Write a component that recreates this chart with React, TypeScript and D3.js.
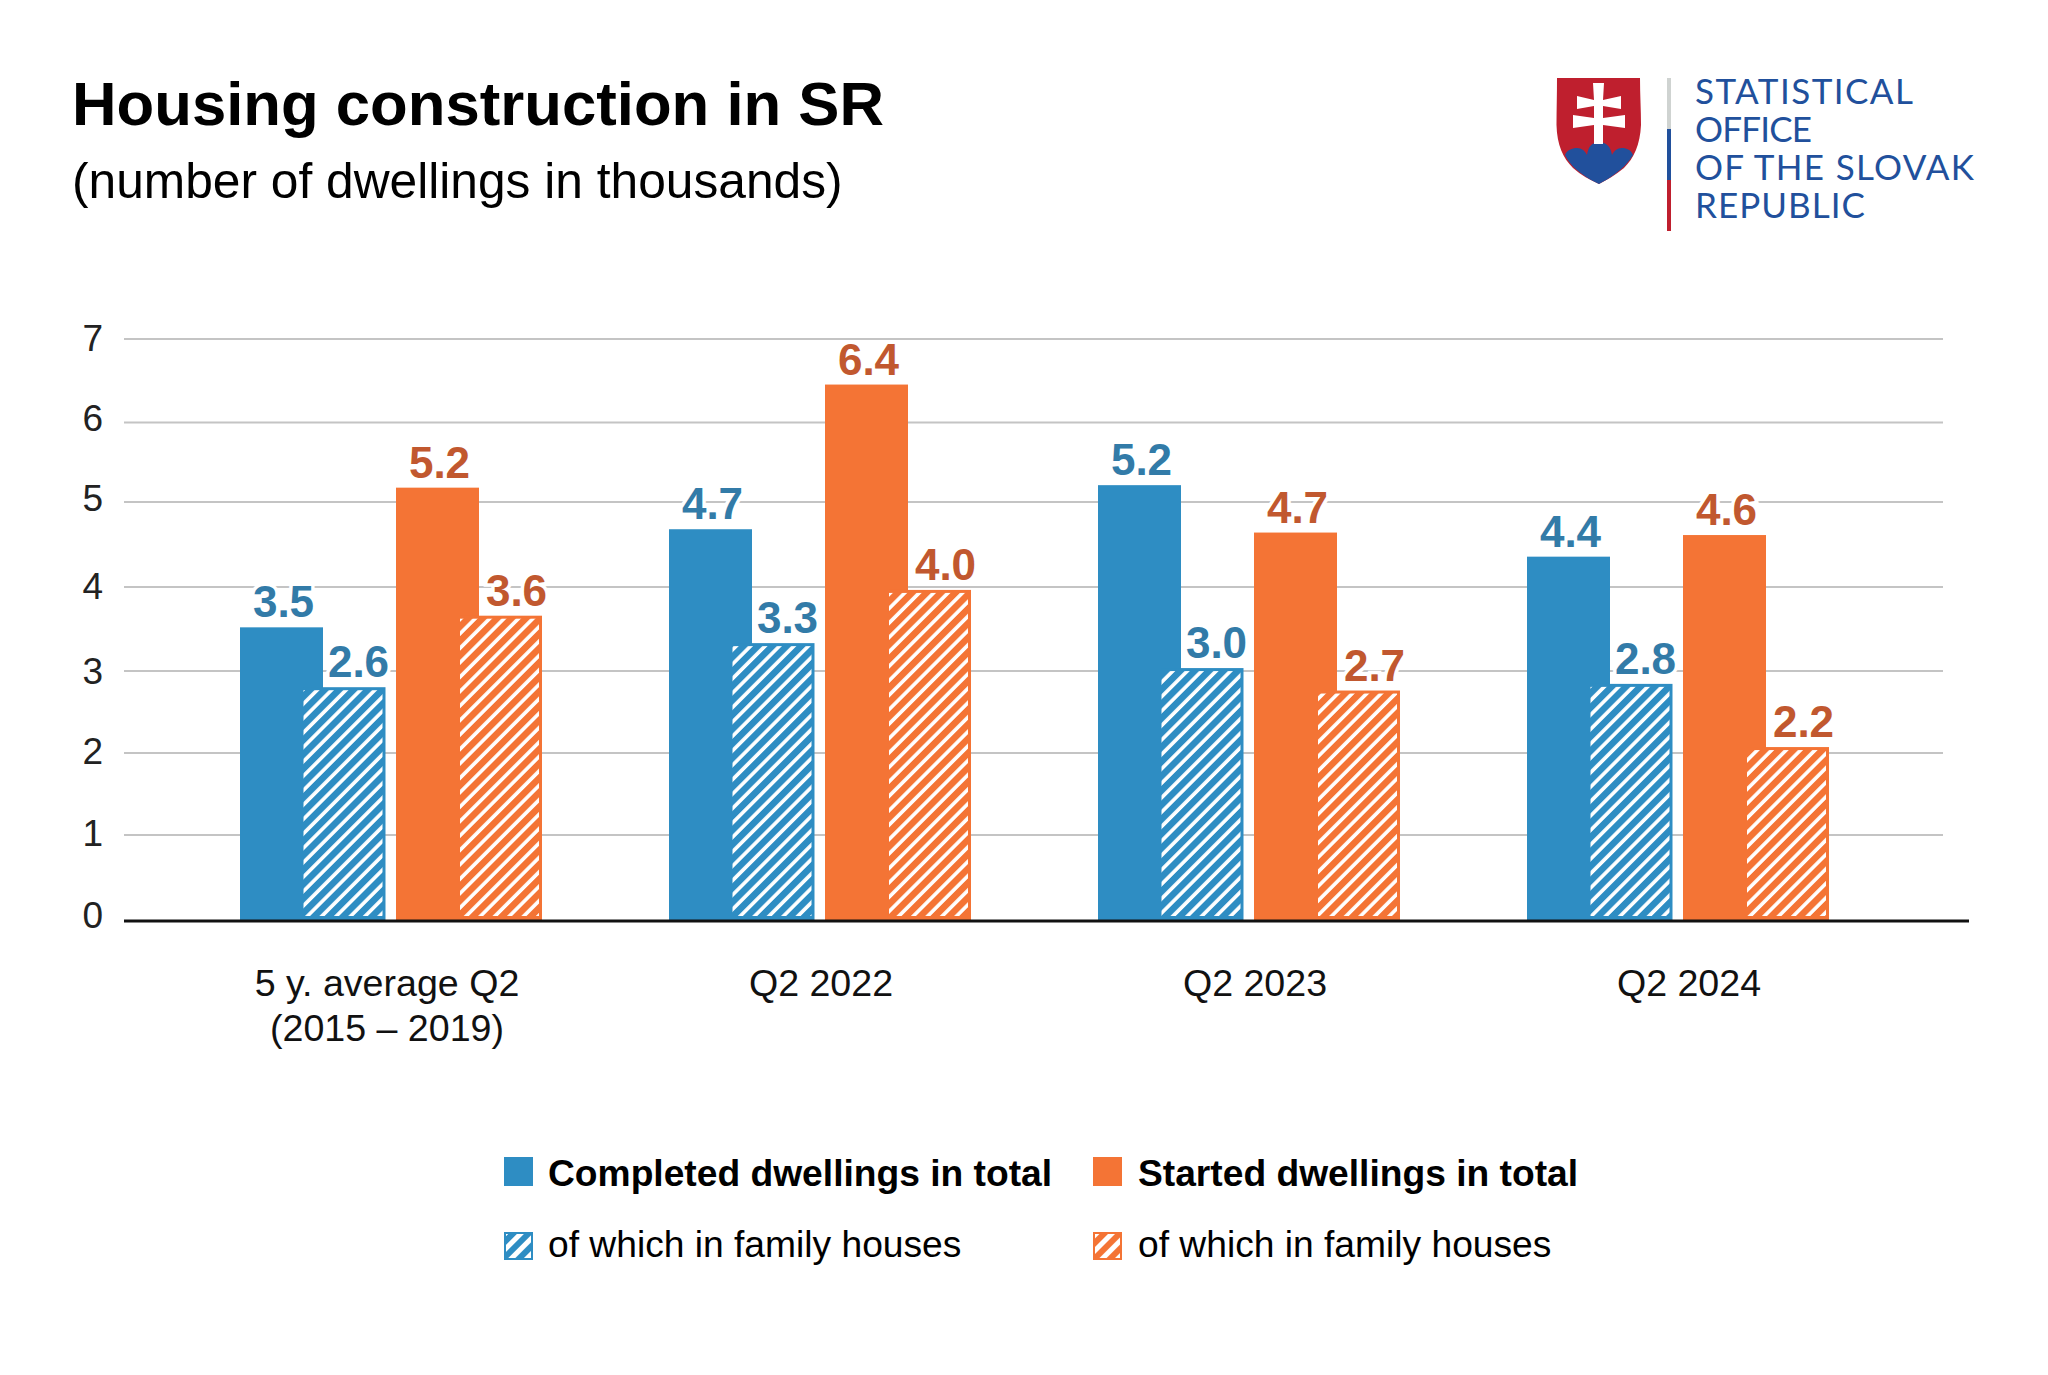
import React from "react";
import * as d3 from "d3";

const categories = ["5 y. average Q2", "Q2 2022", "Q2 2023", "Q2 2024"];
const categorySub = ["(2015 – 2019)", "", "", ""];
const yTicks = [0, 1, 2, 3, 4, 5, 6, 7];
const completedTotal = [3.52, 4.7, 5.23, 4.37];
const completedHouses = [2.8, 3.33, 3.03, 2.84];
const startedTotal = [5.2, 6.44, 4.66, 4.63];
const startedHouses = [3.66, 3.97, 2.76, 2.08];
const completedTotalLabels = ["3.5", "4.7", "5.2", "4.4"];
const completedHousesLabels = ["2.6", "3.3", "3.0", "2.8"];
const startedTotalLabels = ["5.2", "6.4", "4.7", "4.6"];
const startedHousesLabels = ["3.6", "4.0", "2.7", "2.2"];
const logoLines = ["STATISTICAL", "OFFICE", "OF THE SLOVAK", "REPUBLIC"];
const logoLineWidths = [218, 117, 279, 170];

const BLUE = "#2e8dc3";
const ORANGE = "#f47435";
const BLUE_T = "#327ba8";
const ORANGE_T = "#c1582f";
const LOGO_BLUE = "#21509c";
const LOGO_RED = "#bf1f2e";
const FONT = "'Liberation Sans', Arial, sans-serif";

const y = d3.scaleLinear().domain([0, 7]).range([920, 338]);
// the picture's gridlines and tick labels are not perfectly evenly spaced
const gridY = d3.scaleLinear().domain(yTicks).range([920, 835, 753, 671, 587, 502, 422.5, 339]);
const tickLabelY = d3.scaleLinear().domain(yTicks).range([928, 846, 764, 684, 599, 511, 431, 351]);
const x = d3.scaleBand<string>().domain(categories).range([240, 1956]);

const series = [
  { key: "ct", values: completedTotal, labels: completedTotalLabels, off: 0, w: 83, color: BLUE, text: BLUE_T, hatch: false, lx: 2 },
  { key: "ch", values: completedHouses, labels: completedHousesLabels, off: 63.5, w: 82, color: BLUE, text: BLUE_T, hatch: true, lx: 14 },
  { key: "st", values: startedTotal, labels: startedTotalLabels, off: 156, w: 83, color: ORANGE, text: ORANGE_T, hatch: false, lx: 2 },
  { key: "sh", values: startedHouses, labels: startedHousesLabels, off: 220, w: 82, color: ORANGE, text: ORANGE_T, hatch: true, lx: 15.5 },
];

function Pattern({ id, color, size, white }: { id: string; color: string; size: number; white: number }) {
  return (
    <pattern id={id} width={size} height={size} patternUnits="userSpaceOnUse" patternTransform="rotate(45)">
      <rect width={size} height={size} fill={color} />
      <rect x={size - white} width={white} height={size} fill="#fff" />
    </pattern>
  );
}

export default function App() {
  return (
    <svg width={2048} height={1375} viewBox="0 0 2048 1375"
      style={{ position: "absolute", left: 0, top: 0, background: "#fff", fontFamily: FONT }}>
      <defs>
        <Pattern id="hb" color={BLUE} size={10.2} white={3.6} />
        <Pattern id="ho" color={ORANGE} size={10.2} white={3.6} />
        <Pattern id="hbl" color={BLUE} size={11} white={5} />
        <Pattern id="hol" color={ORANGE} size={11} white={5} />
      </defs>

      <text x={72} y={125} fontSize={61} fontWeight={700} fill="#000" textLength={812} lengthAdjust="spacingAndGlyphs">Housing construction in SR</text>
      <text x={72} y={198} fontSize={49.7} fill="#000">(number of dwellings in thousands)</text>

      {/* logo */}
      <g>
        <path d="M1557 78 H1640 C1640 95 1641 110 1641 125 C1640 145 1634 158 1624 168 C1615 175 1607 180 1599 184 C1590 180 1581 175 1573 168 C1563 158 1557 145 1556.5 125 C1556.5 110 1557 95 1557 78 Z" fill={LOGO_RED} />
        <path d="M1565 155 C1567 150 1572 148 1577 148 C1582 148 1585 151 1587 155 C1588 147 1592 142 1599 142 C1606 142 1611 147 1612 155 C1614 151 1617 148 1622 148 C1627 148 1631 150 1633 155 C1628 163 1622 169 1615 174 C1610 178 1604 181 1599 184 C1593 181 1587 178 1582 174 C1575 169 1569 163 1565 155 Z" fill={LOGO_BLUE} />
        <path d="M1593 83 H1604 L1603 100 L1621 96 V109 L1603 106 V118 L1625 115 V128 L1603 125 V144 H1594 V125 L1573 128 V115 L1594 118 V106 L1577 109 V96 L1594 100 Z" fill="#fff" />
        <rect x={1667} y={78} width={4} height={51} fill="#cfd3d1" />
        <rect x={1667} y={129} width={4} height={51} fill={LOGO_BLUE} />
        <rect x={1667} y={180} width={4} height={51} fill={LOGO_RED} />
        {logoLines.map((t, i) => (
          <text key={t} x={1695} y={104 + i * 38} fontFamily="Lato, sans-serif" fontSize={35} fill={LOGO_BLUE}
            textLength={logoLineWidths[i]} lengthAdjust="spacing">{t}</text>
        ))}
      </g>

      {/* grid */}
      {yTicks.filter((t) => t > 0).map((t) => (
        <line key={t} x1={124} x2={1943} y1={gridY(t)} y2={gridY(t)} stroke="#c4c4c4" strokeWidth={2} />
      ))}
      {yTicks.map((t) => (
        <text key={t} x={103} y={tickLabelY(t)} fontSize={37} textAnchor="end" fill="#222">{t}</text>
      ))}

      {/* white halo of the value labels, behind the bars */}
      {series.map((s) =>
        categories.map((c, i) => (
          <text key={s.key + c} x={(x(c) as number) + s.off + s.w / 2 + s.lx} y={y(s.values[i]) - 10}
            fontSize={44} fontWeight={700} textAnchor="middle" fill="#fff" stroke="#fff" strokeWidth={7}>
            {s.labels[i]}
          </text>
        ))
      )}

      {/* bars */}
      {series.map((s) =>
        categories.map((c, i) => {
          const px = (x(c) as number) + s.off;
          const top = y(s.values[i]);
          return s.hatch ? (
            <g key={s.key + c}>
              <rect x={px} y={top} width={s.w} height={y(0) - top} fill={s.color} />
              <rect x={px} y={top + 3} width={s.w - 3} height={y(0) - top - 7}
                fill={s.color === BLUE ? "url(#hb)" : "url(#ho)"} />
            </g>
          ) : (
            <rect key={s.key + c} x={px} y={top} width={s.w} height={y(0) - top} fill={s.color} />
          );
        })
      )}

      <line x1={124} x2={1969} y1={y(0) + 1} y2={y(0) + 1} stroke="#111" strokeWidth={3} />

      {/* value labels */}
      {series.map((s) =>
        categories.map((c, i) => (
          <text key={s.key + c} x={(x(c) as number) + s.off + s.w / 2 + s.lx} y={y(s.values[i]) - 10}
            fontSize={44} fontWeight={700} textAnchor="middle" fill={s.text}>
            {s.labels[i]}
          </text>
        ))
      )}

      {/* category labels */}
      {categories.map((c, i) => (
        <g key={c}>
          <text x={(x(c) as number) + 147 + i * 5} y={996} fontSize={37.6} textAnchor="middle" fill="#111">{c}</text>
          {categorySub[i] && (
            <text x={(x(c) as number) + 147} y={1041} fontSize={37.6} textAnchor="middle" fill="#111">{categorySub[i]}</text>
          )}
        </g>
      ))}

      {/* legend */}
      <rect x={504} y={1157} width={29} height={29} fill={BLUE} />
      <text x={548} y={1186} fontSize={37.2} fontWeight={700} fill="#000">Completed dwellings in total</text>
      <rect x={1093} y={1157} width={29} height={29} fill={ORANGE} />
      <text x={1138} y={1186} fontSize={37.2} fontWeight={700} fill="#000">Started dwellings in total</text>
      <rect x={505} y={1233} width={27} height={26} fill="url(#hbl)" stroke={BLUE} strokeWidth={2} />
      <text x={548} y={1257} fontSize={37.2} fill="#000">of which in family houses</text>
      <rect x={1094} y={1233} width={27} height={26} fill="url(#hol)" stroke={ORANGE} strokeWidth={2} />
      <text x={1138} y={1257} fontSize={37.2} fill="#000">of which in family houses</text>
    </svg>
  );
}
